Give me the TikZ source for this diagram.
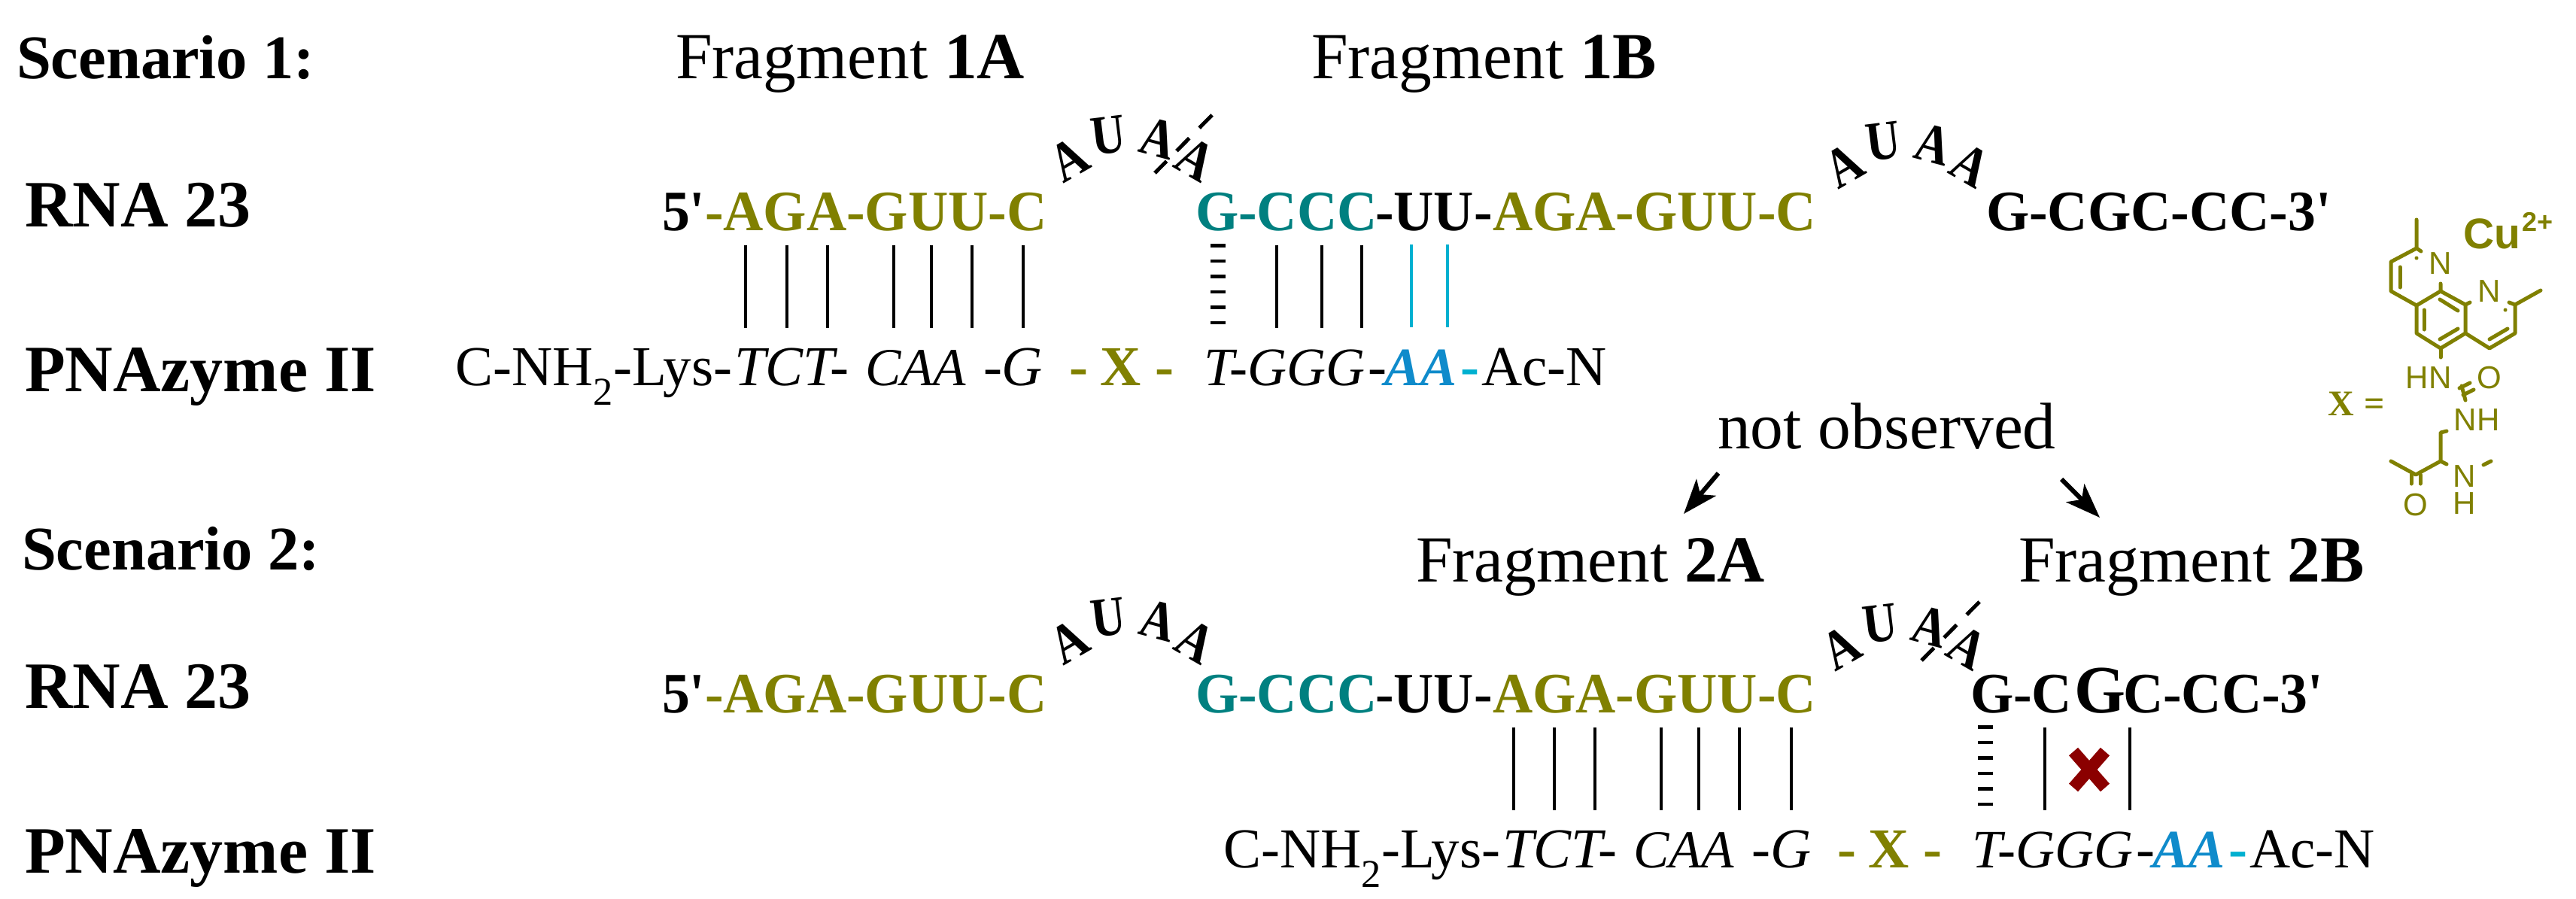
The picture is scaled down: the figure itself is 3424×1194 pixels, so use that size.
\documentclass[tikz,border=0pt]{standalone}
\usepackage{fontspec}
\setmainfont{Liberation Serif}
\setsansfont{Liberation Sans}
\newfontfamily\seqfont[FakeStretch=0.97]{Liberation Serif}
\newfontfamily\loopfont[FakeStretch=0.85]{Liberation Serif}
\usetikzlibrary{arrows.meta,shapes.misc}
\definecolor{olivec}{HTML}{808000}
\definecolor{tealc}{HTML}{008080}
\definecolor{bluec}{HTML}{0F8BCB}
\definecolor{cyanc}{HTML}{00B0D0}
\definecolor{redc}{HTML}{8B0000}
\tikzset{
  every node/.style={inner sep=0pt,outer sep=0pt},
  headtext/.style={anchor=base west,font=\bfseries\fontsize{82.5}{82.5}\selectfont},
  fragtext/.style={anchor=base west,font=\fontsize{87.5}{88}\selectfont},
  seqtext/.style={anchor=base west,font=\seqfont\bfseries\fontsize{76}{76}\selectfont},
  pnatext/.style={anchor=base west,font=\fontsize{75}{75}\selectfont},
  looptext/.style={font=\loopfont\bfseries\fontsize{74}{74}\selectfont},
  atomtext/.style={text=olivec,font=\sffamily\fontsize{42}{42}\selectfont},
  pairline/.style={line width=3.5pt},
  weakline/.style={line width=20pt,dash pattern=on 4.5pt off 16pt},
  cutline/.style={line width=5pt,dash pattern=on 24pt off 19pt},
  bond/.style={olivec,line width=5pt,line cap=round,line join=round},
  obsarrow/.style={line width=6pt,-{Stealth[length=46pt,width=34pt,inset=12pt]}}
}
\begin{document}
\begin{tikzpicture}[x=1pt,y=-1pt]
\useasboundingbox (0,0) rectangle (3424,1194);
% left column
\node[headtext] (scen1) at (22,104) {Scenario 1:};
\node[headtext] (scen2) at (29,757) {Scenario 2:};
\foreach \s/\dy in {1/0,2/640} {
  \node[headtext,font=\bfseries\fontsize{88}{88}\selectfont] (rna\s) at (33,301+\dy) {RNA 23};
  \node[headtext,font=\bfseries\fontsize{88}{88}\selectfont] (pna\s) at (33,520+\dy) {PNAzyme II};
}
% fragment labels
\node[fragtext] (frag1a) at (898,104) {Fragment \textbf{1A}};
\node[fragtext] (frag1b) at (1743,104) {Fragment \textbf{1B}};
\node[fragtext] (frag2a) at (1882,773) {Fragment \textbf{2A}};
\node[fragtext] (frag2b) at (2683,773) {Fragment \textbf{2B}};
\node[fragtext] (notobs) at (2283,596) {not observed};
\coordinate (obsl) at (2284,629);
\coordinate (obsr) at (2740,637);
\coordinate (tipl) at (2238,683);
\coordinate (tipr) at (2791,688);
\draw[obsarrow] (obsl) -- (tipl);
\draw[obsarrow] (obsr) -- (tipr);
% RNA strands
\foreach \s/\dy in {1/0,2/641} {
  \node[seqtext] (five\s) at (880,306+\dy) {5'};
  \node[seqtext,olivec] (arma\s) at (937,306+\dy) {-AGA-GUU-C};
  \node[seqtext,tealc] (armb\s) at (1589,306+\dy) {G-CCC};
  \node[seqtext] (armc\s) at (1828,306+\dy) {-UU-};
  \node[seqtext,olivec] (armd\s) at (1984,306+\dy) {AGA-GUU-C};
}
\node[seqtext] (tail1) at (2640,306) {G-CGC-CC-3'};
\node[seqtext] (taila) at (2619,947) {G-C};
\node[seqtext,font=\seqfont\bfseries\fontsize{90}{90}\selectfont] (tailb) at (2757,947) {G};
\node[seqtext] (tailc) at (2822,947) {C-CC-3'};
% loops
\foreach \s/\dx/\dy in {1/0/0,2/0/641,3/1030/8,4/1026/649} {
  \foreach \l/\t/\x/\y/\r in {a/A/1421/212/30,b/U/1473/180/7,c/A/1540/184/-15,d/A/1589/212/-30} {
    \node[looptext,rotate=\r] (loop\s\l) at (\x+\dx,\y+\dy) {\t};
  }
}
\coordinate (cutatop) at (1611,153);
\coordinate (cutabot) at (1535,230);
\coordinate (cutbtop) at (2631,800);
\coordinate (cutbbot) at (2554,878);
\draw[cutline] (cutatop) -- (cutabot);
\draw[cutline] (cutbtop) -- (cutbbot);
% PNA strands
\foreach \s/\dx/\dy in {1/0/0,2/1021/641} {
  \node[pnatext] (pnaa\s) at (605+\dx,512+\dy) {C-NH\textsubscript{2}-Lys-};
  \node[pnatext,font=\itshape\fontsize{75}{75}\selectfont] (pnab\s) at (976+\dx,512+\dy) {TCT-};
  \node[pnatext,font=\itshape\fontsize{71}{71}\selectfont] (pnac\s) at (1150+\dx,512+\dy) {CAA};
  \node[pnatext,font=\itshape\fontsize{75}{75}\selectfont] (pnad\s) at (1307+\dx,512+\dy) {-G};
  \node[pnatext,olivec,font=\bfseries\fontsize{75}{75}\selectfont] (pnae\s) at (1421+\dx,512+\dy) {-};
  \node[pnatext,olivec,font=\bfseries\fontsize{75}{75}\selectfont] (pnaf\s) at (1462+\dx,512+\dy) {X};
  \node[pnatext,olivec,font=\bfseries\fontsize{75}{75}\selectfont] (pnag\s) at (1535+\dx,512+\dy) {-};
  \node[pnatext,font=\itshape\fontsize{72}{72}\selectfont] (pnah\s) at (1600+\dx,512+\dy) {T-GGG};
  \node[pnatext] (pnai\s) at (1818+\dx,512+\dy) {-};
  \node[pnatext,bluec,font=\itshape\bfseries\fontsize{72}{72}\selectfont] (pnaj\s) at (1840+\dx,512+\dy) {AA};
  \node[pnatext,cyanc,font=\bfseries\fontsize{75}{75}\selectfont] (pnak\s) at (1941+\dx,512+\dy) {-};
  \node[pnatext] (pnal\s) at (1969+\dx,512+\dy) {Ac-N};
}
% base pairs
\foreach \x in {991,1046,1100,1188,1238,1292,1360,1697,1757,1810} {
  \coordinate (pt\x) at (\x,326);
  \coordinate (pb\x) at (\x,436);
  \draw[pairline] (pt\x) -- (pb\x);
}
\foreach \x in {1876,1924} {
  \coordinate (pt\x) at (\x,325);
  \coordinate (pb\x) at (\x,435);
  \draw[pairline,cyanc] (pt\x) -- (pb\x);
}
\foreach \x in {2012,2066,2120,2208,2258,2312,2381,2718,2831} {
  \coordinate (qt\x) at (\x,967);
  \coordinate (qb\x) at (\x,1077);
  \draw[pairline] (qt\x) -- (qb\x);
}
\coordinate (weakat) at (1619,324);
\coordinate (weakab) at (1619,431);
\coordinate (weakbt) at (2639,964);
\coordinate (weakbb) at (2639,1071);
\draw[weakline] (weakat) -- (weakab);
\draw[weakline] (weakbt) -- (weakbb);
\node[cross out,draw=redc,line width=16pt,minimum width=42pt,minimum height=48pt] (blocked) at (2777,1023) {};
% X building block
\draw[bond] (3212,292) -- (3212,330) -- (3218,334);
\draw[bond] (3212,330) -- (3178,348) -- (3178,387) -- (3212,406) -- (3244,387) -- (3244,377);
\draw[bond] (3190,355) -- (3190,382);
\draw[bond] (3212,406) -- (3212,443) -- (3244,463) -- (3277,443) -- (3277,405) -- (3244,387);
\draw[bond] (3277,405) -- (3283,402);
\draw[bond] (3222,412) -- (3222,438);
\draw[bond] (3243,398) -- (3267,413);
\draw[bond] (3243,451) -- (3267,437);
\draw[bond] (3277,443) -- (3309,463) -- (3343,443) -- (3343,405) -- (3335,402);
\draw[bond] (3343,405) -- (3377,386);
\draw[bond] (3309,451) -- (3333,437);
\draw[bond] (3244,463) -- (3244,475);
\draw[bond] (3269,516) -- (3283,509);
\draw[bond] (3274,525) -- (3288,518);
\draw[bond] (3272,513) -- (3277,532);
\draw[bond] (3252,573) -- (3244,575) -- (3244,613) -- (3252,617);
\draw[bond] (3244,613) -- (3211,631) -- (3178,613);
\draw[bond] (3205,631) -- (3205,643);
\draw[bond] (3217,631) -- (3217,643);
\draw[bond] (3301,618) -- (3311,613);
\fill[olivec] (3212,343) circle (2.5pt) (3330,412) circle (2.5pt);
\node[atomtext] (n1) at (3244,350) {N};
\node[atomtext] (n2) at (3309,387) {N};
\node[atomtext] (hn) at (3228,502) {HN};
\node[atomtext] (o1) at (3309,502) {O};
\node[atomtext] (nh) at (3292,558) {NH};
\node[atomtext] (o2) at (3211,671) {O};
\node[atomtext] (n3) at (3276,633) {N};
\node[atomtext] (h3) at (3276,669) {H};
\node[anchor=base west,text=olivec,font=\sffamily\bfseries\fontsize{57}{57}\selectfont] (cu) at (3274,330) {Cu};
\node[anchor=base west,text=olivec,font=\sffamily\bfseries\fontsize{36}{36}\selectfont] (cucharge) at (3352,307) {2+};
\node[anchor=base west,text=olivec,font=\bfseries\fontsize{48}{48}\selectfont] (xlabel) at (3094,552) {X};
\node[anchor=base west,text=olivec,font=\bfseries\fontsize{48}{48}\selectfont] (xeq) at (3142,552) {=};
\end{tikzpicture}
\end{document}
